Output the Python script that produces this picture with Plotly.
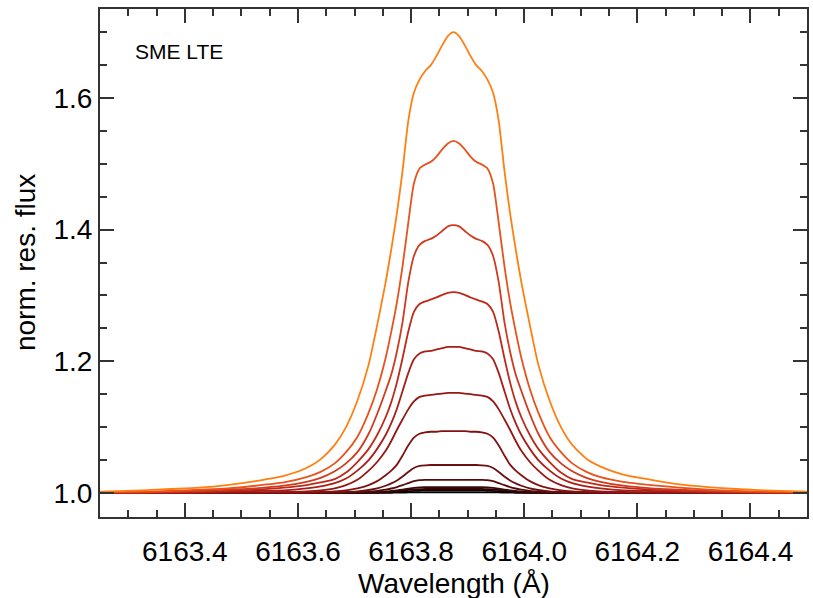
import plotly.graph_objects as go

# wavelength grid (Angstrom), shared by all profiles; line centre at 6163.875
wavelength = [6163.25, 6163.325, 6163.375, 6163.425, 6163.475, 6163.525, 6163.575, 6163.615,
              6163.64, 6163.665, 6163.685, 6163.705, 6163.725, 6163.74, 6163.755, 6163.765,
              6163.775, 6163.785, 6163.795, 6163.805, 6163.815, 6163.825, 6163.835, 6163.845,
              6163.855, 6163.865, 6163.875,
              6163.885, 6163.895, 6163.905, 6163.915, 6163.925, 6163.935, 6163.945, 6163.955,
              6163.965, 6163.975, 6163.985, 6163.995, 6164.01, 6164.025, 6164.045, 6164.065,
              6164.085, 6164.11, 6164.135, 6164.175, 6164.225, 6164.275, 6164.325, 6164.375,
              6164.425, 6164.50]

# normalised residual flux profiles, strongest (orange) to weakest (black)
flux_1 = [1.002, 1.004, 1.006, 1.008, 1.012, 1.018, 1.026, 1.038, 1.051, 1.073, 1.100, 1.140,
          1.195, 1.255, 1.320, 1.370, 1.425, 1.490, 1.565, 1.608, 1.628, 1.641, 1.650, 1.664,
          1.680, 1.694, 1.700,
          1.694, 1.680, 1.664, 1.650, 1.641, 1.628, 1.608, 1.565, 1.490, 1.425, 1.370, 1.320,
          1.255, 1.195, 1.140, 1.100, 1.073, 1.052, 1.040, 1.028, 1.020, 1.013, 1.009, 1.006,
          1.004, 1.002]
flux_2 = [1.001, 1.002, 1.003, 1.005, 1.007, 1.011, 1.016, 1.024, 1.032, 1.045, 1.062, 1.085,
          1.122, 1.158, 1.205, 1.245, 1.290, 1.345, 1.410, 1.470, 1.493, 1.499, 1.503, 1.511,
          1.522, 1.531, 1.535,
          1.531, 1.522, 1.511, 1.503, 1.499, 1.493, 1.470, 1.410, 1.345, 1.290, 1.245, 1.205,
          1.158, 1.122, 1.085, 1.062, 1.045, 1.032, 1.024, 1.017, 1.012, 1.008, 1.005, 1.003,
          1.002, 1.001]
flux_3 = [1.001, 1.001, 1.002, 1.003, 1.005, 1.007, 1.011, 1.017, 1.023, 1.033, 1.045, 1.062,
          1.090, 1.120, 1.155, 1.180, 1.215, 1.260, 1.320, 1.360, 1.377, 1.383, 1.386, 1.391,
          1.398, 1.405, 1.407,
          1.405, 1.398, 1.391, 1.386, 1.383, 1.377, 1.360, 1.320, 1.260, 1.215, 1.180, 1.155,
          1.120, 1.090, 1.062, 1.045, 1.033, 1.023, 1.017, 1.011, 1.007, 1.005, 1.003, 1.002,
          1.001, 1.001]
flux_4 = [1.000, 1.001, 1.001, 1.002, 1.003, 1.005, 1.008, 1.012, 1.016, 1.021, 1.031, 1.047,
          1.067, 1.088, 1.115, 1.138, 1.168, 1.205, 1.245, 1.275, 1.287, 1.291, 1.294, 1.297,
          1.301, 1.304, 1.305,
          1.304, 1.301, 1.297, 1.294, 1.291, 1.287, 1.275, 1.245, 1.205, 1.168, 1.138, 1.115,
          1.088, 1.067, 1.047, 1.031, 1.021, 1.016, 1.012, 1.008, 1.005, 1.003, 1.002, 1.001,
          1.001, 1.000]
flux_5 = [1.000, 1.000, 1.001, 1.001, 1.002, 1.003, 1.004, 1.007, 1.010, 1.015, 1.022, 1.034,
          1.050, 1.067, 1.088, 1.106, 1.128, 1.155, 1.182, 1.203, 1.212, 1.215, 1.216, 1.218,
          1.220, 1.222, 1.222,
          1.222, 1.220, 1.218, 1.216, 1.215, 1.212, 1.203, 1.182, 1.155, 1.128, 1.106, 1.088,
          1.067, 1.050, 1.034, 1.022, 1.015, 1.010, 1.007, 1.004, 1.003, 1.002, 1.001, 1.001,
          1.000, 1.000]
flux_6 = [1.000, 1.000, 1.000, 1.000, 1.001, 1.001, 1.0015, 1.0025, 1.004, 1.007, 1.012, 1.020,
          1.034, 1.047, 1.064, 1.079, 1.096, 1.112, 1.127, 1.139, 1.146, 1.148, 1.149, 1.150,
          1.151, 1.152, 1.152,
          1.152, 1.151, 1.150, 1.149, 1.148, 1.146, 1.139, 1.127, 1.112, 1.096, 1.079, 1.064,
          1.047, 1.034, 1.020, 1.012, 1.007, 1.004, 1.0025, 1.0015, 1.001, 1.001, 1.000, 1.000,
          1.000, 1.000]
flux_7 = [1.000, 1.000, 1.000, 1.000, 1.000, 1.000, 1.0005, 1.001, 1.0015, 1.0025, 1.004, 1.007,
          1.012, 1.018, 1.027, 1.034, 1.043, 1.057, 1.072, 1.084, 1.090, 1.092, 1.093, 1.093,
          1.094, 1.094, 1.094,
          1.094, 1.094, 1.093, 1.093, 1.092, 1.090, 1.084, 1.072, 1.057, 1.043, 1.034, 1.027,
          1.018, 1.012, 1.007, 1.004, 1.0025, 1.0015, 1.001, 1.0005, 1.000, 1.000, 1.000, 1.000,
          1.000, 1.000]
flux_8 = [1.000, 1.000, 1.000, 1.000, 1.000, 1.000, 1.000, 1.000, 1.0005, 1.001, 1.0015, 1.0025,
          1.0045, 1.007, 1.011, 1.0145, 1.019, 1.025, 1.032, 1.038, 1.041, 1.042, 1.0425, 1.0425,
          1.0425, 1.0425, 1.0425,
          1.0425, 1.0425, 1.0425, 1.0425, 1.042, 1.041, 1.038, 1.032, 1.025, 1.019, 1.0145, 1.011,
          1.007, 1.0045, 1.0025, 1.0015, 1.001, 1.0005, 1.000, 1.000, 1.000, 1.000, 1.000, 1.000,
          1.000, 1.000]
flux_9 = [1.000, 1.000, 1.000, 1.000, 1.000, 1.000, 1.000, 1.000, 1.000, 1.0003, 1.0006, 1.0011,
          1.002, 1.0032, 1.005, 1.0068, 1.009, 1.0118, 1.015, 1.018, 1.0194, 1.0198, 1.020, 1.020,
          1.020, 1.020, 1.020,
          1.020, 1.020, 1.020, 1.020, 1.0198, 1.0194, 1.018, 1.015, 1.0118, 1.009, 1.0068, 1.005,
          1.0032, 1.002, 1.0011, 1.0006, 1.0003, 1.000, 1.000, 1.000, 1.000, 1.000, 1.000, 1.000,
          1.000, 1.000]
flux_10 = [1.000, 1.000, 1.000, 1.000, 1.000, 1.000, 1.000, 1.000, 1.000, 1.0001, 1.0003, 1.0005,
           1.0009, 1.0014, 1.0022, 1.003, 1.004, 1.0052, 1.0066, 1.0079, 1.0085, 1.0087, 1.0087,
           1.0087, 1.0087, 1.0087, 1.0087,
           1.0087, 1.0087, 1.0087, 1.0087, 1.0087, 1.0085, 1.0079, 1.0066, 1.0052, 1.004, 1.003,
           1.0022, 1.0014, 1.0009, 1.0005, 1.0003, 1.0001, 1.000, 1.000, 1.000, 1.000, 1.000,
           1.000, 1.000, 1.000, 1.000]
flux_11 = [1.000, 1.000, 1.000, 1.000, 1.000, 1.000, 1.000, 1.000, 1.000, 1.0001, 1.0002, 1.0003,
           1.0006, 1.001, 1.0015, 1.0021, 1.0028, 1.0036, 1.0046, 1.0055, 1.0059, 1.006, 1.006,
           1.006, 1.006, 1.006, 1.006,
           1.006, 1.006, 1.006, 1.006, 1.006, 1.0059, 1.0055, 1.0046, 1.0036, 1.0028, 1.0021,
           1.0015, 1.001, 1.0006, 1.0003, 1.0002, 1.0001, 1.000, 1.000, 1.000, 1.000, 1.000,
           1.000, 1.000, 1.000, 1.000]
flux_12 = [1.000, 1.000, 1.000, 1.000, 1.000, 1.000, 1.000, 1.000, 1.000, 1.000, 1.0001, 1.0002,
           1.0004, 1.0006, 1.0009, 1.0012, 1.0016, 1.0021, 1.0027, 1.0032, 1.0034, 1.0035, 1.0035,
           1.0035, 1.0035, 1.0035, 1.0035,
           1.0035, 1.0035, 1.0035, 1.0035, 1.0035, 1.0034, 1.0032, 1.0027, 1.0021, 1.0016, 1.0012,
           1.0009, 1.0006, 1.0004, 1.0002, 1.0001, 1.000, 1.000, 1.000, 1.000, 1.000, 1.000,
           1.000, 1.000, 1.000, 1.000]
flux_13 = [1.000, 1.000, 1.000, 1.000, 1.000, 1.000, 1.000, 1.000, 1.000, 1.000, 1.000, 1.000,
           1.000, 1.0001, 1.0002, 1.0003, 1.0005, 1.0006, 1.0008, 1.0009, 1.001, 1.001, 1.001,
           1.001, 1.001, 1.001, 1.001,
           1.001, 1.001, 1.001, 1.001, 1.001, 1.001, 1.0009, 1.0008, 1.0006, 1.0005, 1.0003,
           1.0002, 1.0001, 1.000, 1.000, 1.000, 1.000, 1.000, 1.000, 1.000, 1.000, 1.000,
           1.000, 1.000, 1.000, 1.000]

profiles = [flux_1, flux_2, flux_3, flux_4, flux_5, flux_6, flux_7,
            flux_8, flux_9, flux_10, flux_11, flux_12, flux_13]

LINE_COLOURS = ["#FF7F11", "#E8521C", "#D03A1E", "#BC2A1A", "#A81E18", "#961614",
                "#801212", "#6A1010", "#520C0C", "#3C0808", "#280404", "#140202", "#000000"]

FONT = "Liberation Sans, Arial, sans-serif"
FRAME = "#333333"

fig = go.Figure()

# draw weakest first so the orange profile sits on top
for flux, colour in reversed(list(zip(profiles, LINE_COLOURS))):
    fig.add_trace(go.Scatter(
        x=wavelength, y=flux, mode="lines",
        line=dict(color=colour, width=1.8, shape="spline", smoothing=0.6),
        showlegend=False, hoverinfo="skip",
    ))

axis_common = dict(
    showline=True, linecolor=FRAME, linewidth=2, mirror="allticks",
    ticks="inside", ticklen=14, tickwidth=1.5, tickcolor=FRAME,
    showgrid=False, zeroline=False, automargin=False,
    tickfont=dict(family=FONT, size=28, color="black"),
    tickformat=".1f",
)

fig.update_xaxes(
    range=[6163.25, 6164.5], tick0=6163.0, dtick=0.2,
    minor=dict(dtick=0.05, tick0=6163.0, ticks="inside", ticklen=7,
               tickwidth=1.5, tickcolor=FRAME, showgrid=False),
    ticklabelstandoff=8,
    **axis_common,
)
fig.update_yaxes(
    range=[0.9635, 1.7352], tick0=0.0, dtick=0.2,
    minor=dict(dtick=0.05, tick0=0.0, ticks="inside", ticklen=7,
               tickwidth=1.5, tickcolor=FRAME, showgrid=False),
    ticklabelstandoff=0,
    **axis_common,
)

# axis titles and in-plot label
fig.add_annotation(
    x=0.5, y=-0.13, xref="paper", yref="paper", text="Wavelength (Å)",
    showarrow=False, xanchor="center", yanchor="middle",
    font=dict(family=FONT, size=28, color="black"),
)
fig.add_annotation(
    x=-0.106, y=0.5, xref="paper", yref="paper", text="norm. res. flux",
    showarrow=False, xanchor="center", yanchor="middle", textangle=-90,
    font=dict(family=FONT, size=28, color="black"),
)
fig.add_annotation(
    x=0.047, y=0.917, xref="paper", yref="paper",
    text="SME LTE", showarrow=False, xanchor="left", yanchor="middle",
    font=dict(family=FONT, size=21, color="black"),
)

fig.update_layout(
    width=813, height=598,
    margin=dict(l=100, r=6, t=9, b=81),
    plot_bgcolor="white", paper_bgcolor="white",
    showlegend=False,
)

# drop the page's default body margin so the figure fills the window exactly
fig.write_html(
    "out.html",
    config={"displayModeBar": False},
    post_script="document.body.style.margin='0';document.body.style.overflow='hidden';",
)
